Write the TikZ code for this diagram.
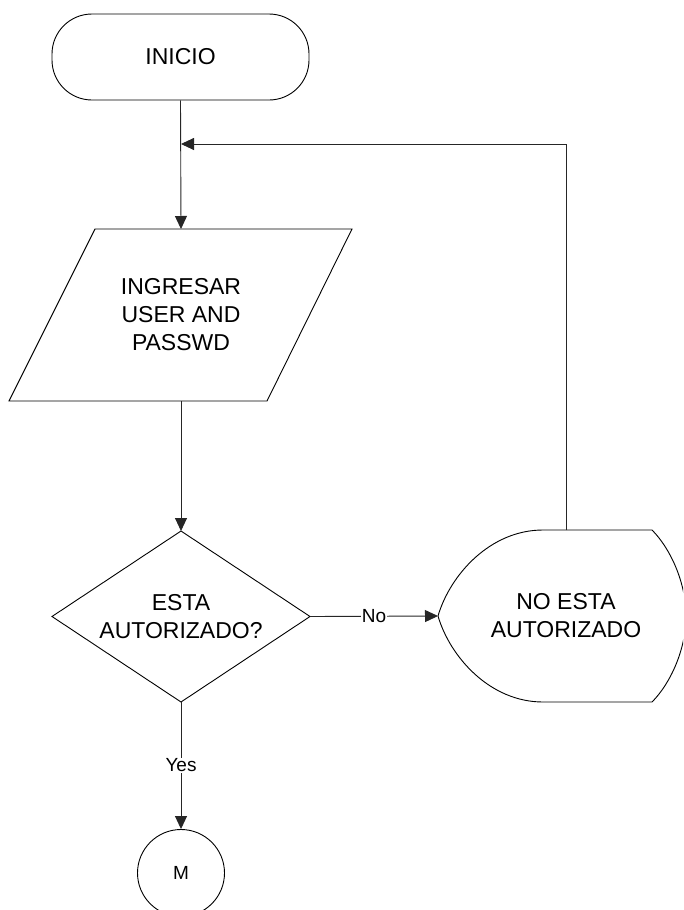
\documentclass[tikz,border=0pt]{standalone}
\usepackage{fontspec}
\setmainfont{Liberation Sans}
\usetikzlibrary{arrows.meta}
\begin{document}
\begin{tikzpicture}[x=1pt,y=-1pt,
  outline/.style={draw=black,line width=0.9pt},
  flow/.style={draw=black!85,line width=0.9pt,-{Triangle[length=13pt,width=12pt]}},
  big/.style={font=\fontsize{23}{28}\selectfont,align=center,inner sep=0pt},
  small/.style={font=\fontsize{19}{22}\selectfont},
]
\useasboundingbox (0,0) rectangle (683,910);
\clip (0,0) rectangle (683,910);

% start terminal
\node (inicio) [outline, big, rounded corners=40pt, minimum width=257pt, minimum height=86pt] at (180.5,57) {INICIO};

% input parallelogram
\coordinate (inTop) at (181,229);
\coordinate (inBot) at (181,401);
\draw[outline] (95,229) -- (352,229) -- (267,401) -- (9,401) -- cycle;
\node (ingreso) [big] at (181,315) {INGRESAR\\USER AND\\PASSWD};

% decision
\coordinate (decN) at (181,531);
\coordinate (decE) at (310,616.5);
\coordinate (decS) at (181,702);
\coordinate (decW) at (52,616.5);
\draw[outline] (decN) -- (decE) -- (decS) -- (decW) -- cycle;
\node (pregunta) [big] at (181,617) {ESTA\\AUTORIZADO?};

% display shape
\coordinate (dispW) at (438,616);
\coordinate (dispN) at (566,530);
\draw[outline] (543,530) -- (652,530)
  .. controls (670,548) and (686,582) .. (686,616)
  .. controls (686,650) and (670,684) .. (652,702)
  -- (543,702)
  .. controls (490,702) and (450,657) .. (dispW)
  .. controls (450,575) and (490,530) .. (543,530) -- cycle;
\node (rechazo) [big] at (566,616) {NO ESTA\\AUTORIZADO};

% off-page connector
\node (m) [outline, circle, minimum size=87pt, inner sep=0pt, small] at (181,873) {M};

% connectors
\coordinate (retorno) at (181,144);
\draw[flow] (inicio.south) -- (inTop);
\draw[flow] (inBot) -- (decN);
\draw[flow] (decE) -- node[small, fill=white, inner sep=1pt] (no) {No} (dispW);
\draw[flow] (decS) -- node[small, fill=white, inner sep=1pt] (yes) {Yes} (m.north);
\draw[flow] (dispN) |- (retorno);
\end{tikzpicture}
\end{document}
